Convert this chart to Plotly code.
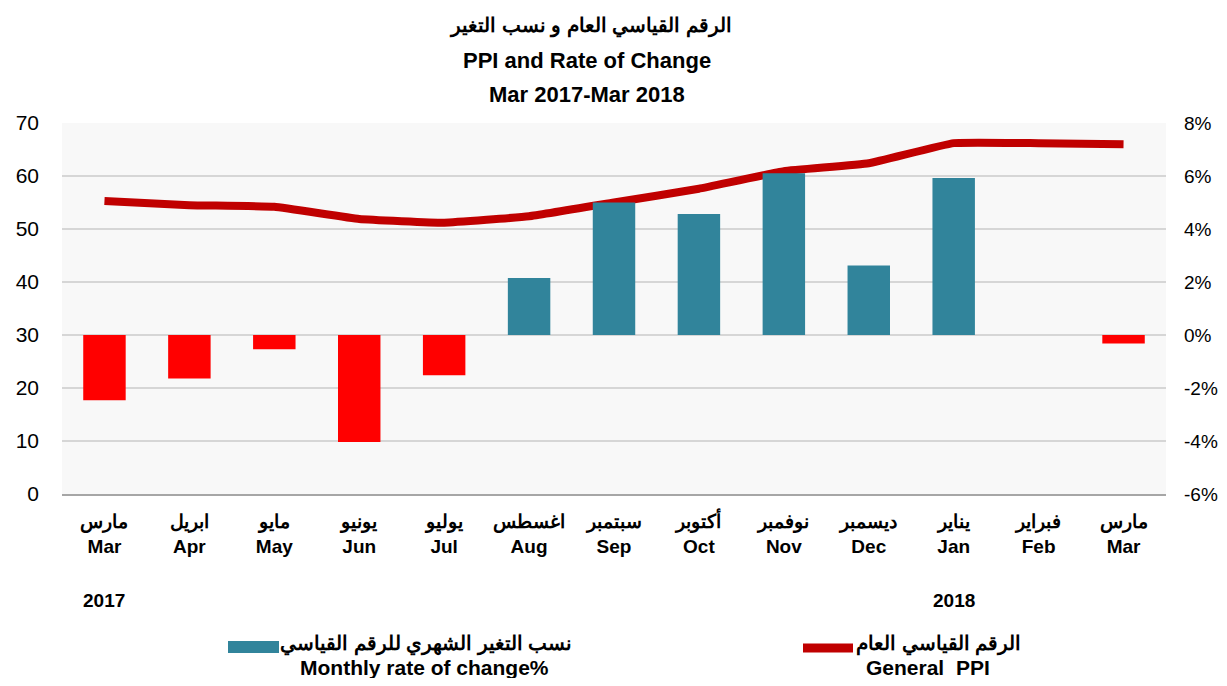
import plotly.graph_objects as go

months_en = ["Mar", "Apr", "May", "Jun", "Jul", "Aug", "Sep", "Oct", "Nov", "Dec", "Jan", "Feb", "Mar"]
months_ar = ["مارس", "ابريل", "مايو", "يونيو", "يوليو", "اغسطس", "سبتمبر", "أكتوبر", "نوفمبر", "ديسمبر", "يناير", "فبراير", "مارس"]
rate_pct = [-2.46, -1.64, -0.54, -4.04, -1.52, 2.15, 5.0, 4.57, 6.1, 2.62, 5.92, 0.0, -0.32]
ppi = [55.3, 54.5, 54.2, 51.9, 51.2, 52.4, 55.0, 57.6, 60.9, 62.4, 66.2, 66.2, 66.0]
right_ticks = [-6, -4, -2, 0, 2, 4, 6, 8]
years = [("2017", 0), ("2018", 10)]

x = list(range(len(months_en)))
POS = "#31849b"
NEG = "#ff0000"
LINE = "#c00000"
FONT = "Liberation Sans, Arial, sans-serif"

# figure geometry (page body adds an 8px margin on every side)
OFF = 8
W, H = 1211, 670
L, T = 54, 115
PW, PH = 1104, 371
R, B = W - L - PW, H - T - PH


def px(xs):
    return (xs - OFF - L) / PW


def py(ys):
    return (H - (ys - OFF) - B) / PH


bar_colors = [POS if v >= 0 else NEG for v in rate_pct]

fig = go.Figure()
fig.add_trace(go.Bar(
    x=x, y=rate_pct, yaxis="y2", width=0.5,
    marker=dict(color=bar_colors, line=dict(width=0)),
    showlegend=False,
))
fig.add_trace(go.Scatter(
    x=x, y=ppi, yaxis="y", mode="lines",
    line=dict(color=LINE, width=8, shape="spline", smoothing=0.3),
    showlegend=False,
))

ticktext = [f"<b>{a}</b><br><b>{e}</b>" for a, e in zip(months_ar, months_en)]

fig.update_layout(
    width=W, height=H,
    margin=dict(l=L, r=R, t=T, b=B, autoexpand=False),
    paper_bgcolor="white",
    plot_bgcolor="#f8f8f8",
    font=dict(family=FONT, color="black"),
    xaxis=dict(
        range=[-0.5, 12.5], tickmode="array", tickvals=x, ticktext=ticktext,
        tickfont=dict(size=19, family=FONT), showgrid=False, zeroline=False,
        showline=True, linecolor="#a6a6a6", linewidth=2, ticks="",
        ticklabelstandoff=9, automargin=False,
    ),
    yaxis=dict(
        range=[0, 70], dtick=10, tickfont=dict(size=21, family=FONT),
        showgrid=True, gridcolor="#d6d6d6", gridwidth=2, zeroline=False,
        ticks="", ticklabelstandoff=22, automargin=False,
    ),
    yaxis2=dict(
        range=[-6, 8], overlaying="y", side="right",
        tickmode="array", tickvals=right_ticks,
        ticktext=[f"{v}%" for v in right_ticks],
        tickfont=dict(size=19, family=FONT),
        showgrid=False, zeroline=False, ticks="", ticklabelstandoff=17,
        automargin=False,
    ),
)

texts = [
    ("<b>الرقم القياسي العام و نسب التغير</b>", 590, 26, 20),
    ("<b>PPI and Rate of Change</b>", 587, 60, 22),
    ("<b>Mar 2017-Mar 2018</b>", 587, 94, 22),
    ("<b>نسب التغير الشهري للرقم القياسي</b>", 426, 644, 20),
    ("<b>Monthly rate of change%</b>", 424, 667, 21),
    ("<b>الرقم القياسي العام</b>", 938, 644, 20),
    ("<b>General  PPI</b>", 928, 667, 21),
]
anns = [dict(text=t, x=px(xx), y=py(yy), xref="paper", yref="paper",
             showarrow=False, xanchor="center", yanchor="middle",
             font=dict(family=FONT, color="black", size=s)) for t, xx, yy, s in texts]
for label, idx in years:
    anns.append(dict(text=f"<b>{label}</b>", x=idx, y=py(600), xref="x", yref="paper",
                     showarrow=False, xanchor="center", yanchor="middle",
                     font=dict(family=FONT, color="black", size=19)))
fig.update_layout(annotations=anns)

shapes = [
    dict(type="rect", xref="paper", yref="paper",
         x0=px(228), x1=px(279), y0=py(653), y1=py(641),
         fillcolor=POS, line=dict(width=0)),
    dict(type="line", xref="paper", yref="paper",
         x0=px(803), x1=px(853), y0=py(648), y1=py(648),
         line=dict(color=LINE, width=9)),
]
fig.update_layout(shapes=shapes)

fig.write_html("out.html")
